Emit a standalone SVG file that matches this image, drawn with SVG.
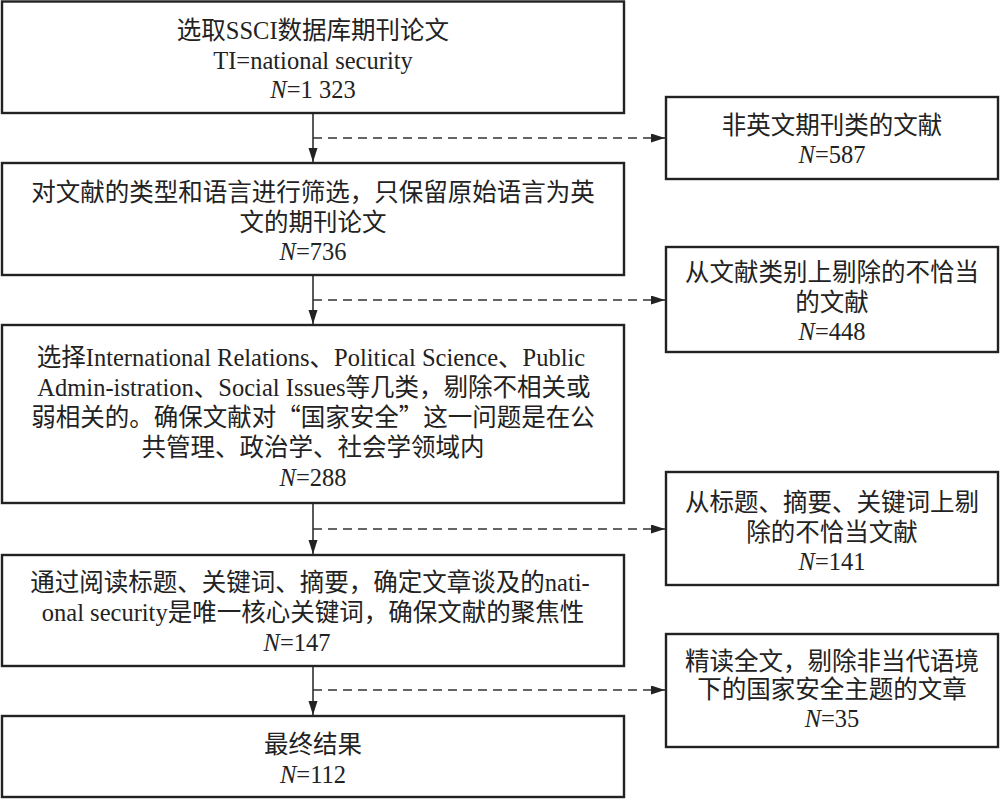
<svg xmlns="http://www.w3.org/2000/svg" width="1000" height="800" viewBox="0 0 1000 800">
<defs>
<style>
.box{fill:#fff;stroke:#222;stroke-width:2.4}
.t{font-family:"Liberation Serif","Noto Sans CJK SC",serif;font-size:24.5px;fill:#222;text-anchor:middle}
.i{font-style:italic}
.q{font-family:"Noto Sans CJK SC",sans-serif}
.ln{stroke:#222;stroke-width:1.5;fill:none}
.dl{stroke:#333;stroke-width:1.5;fill:none;stroke-dasharray:9 6}
</style>
<marker id="ah" markerUnits="userSpaceOnUse" markerWidth="15" markerHeight="10" refX="14" refY="4.5" orient="auto">
<path d="M0,0 L14,4.5 L0,9 z" fill="#222"/>
</marker>
</defs>
<rect width="1000" height="800" fill="#fff"/>
<g id="connectors">
<line class="ln" x1="313" y1="113" x2="313" y2="162" marker-end="url(#ah)"/>
<line class="ln" x1="313" y1="275" x2="313" y2="324" marker-end="url(#ah)"/>
<line class="ln" x1="313" y1="503" x2="313" y2="554" marker-end="url(#ah)"/>
<line class="ln" x1="313" y1="666" x2="313" y2="715" marker-end="url(#ah)"/>
<line class="dl" x1="313" y1="138" x2="665" y2="138" marker-end="url(#ah)"/>
<line class="dl" x1="313" y1="300" x2="665" y2="300" marker-end="url(#ah)"/>
<line class="dl" x1="313" y1="529" x2="665" y2="529" marker-end="url(#ah)"/>
<line class="dl" x1="313" y1="690" x2="665" y2="690" marker-end="url(#ah)"/>
</g>
<g id="n1">
<rect class="box" x="2" y="1.5" width="622" height="111.5"/>
<text class="t" x="313" y="39">选取SSCI数据库期刊论文</text>
<text class="t" x="313" y="69">TI=national security</text>
<text class="t" x="313" y="98"><tspan class="i">N</tspan>=1 323</text>
</g>
<g id="n2">
<rect class="box" x="2" y="163" width="622" height="112"/>
<text class="t" x="313" y="201">对文献的类型和语言进行筛选，只保留原始语言为英</text>
<text class="t" x="313" y="231">文的期刊论文</text>
<text class="t" x="313" y="260"><tspan class="i">N</tspan>=736</text>
</g>
<g id="n3">
<rect class="box" x="2" y="325" width="622" height="178"/>
<text class="t" x="311" y="366">选择International Relations、Political Science、Public</text>
<text class="t" x="314" y="396">Admin-istration、Social Issues等几类，剔除不相关或</text>
<text class="t" x="313" y="426">弱相关的。确保文献对<tspan class="q">“</tspan>国家安全<tspan class="q">”</tspan>这一问题是在公</text>
<text class="t" x="313" y="456">共管理、政治学、社会学领域内</text>
<text class="t" x="313" y="486"><tspan class="i">N</tspan>=288</text>
</g>
<g id="n4">
<rect class="box" x="2" y="555" width="622" height="111"/>
<text class="t" x="310" y="591">通过阅读标题、关键词、摘要，确定文章谈及的nati-</text>
<text class="t" x="313" y="621">onal security是唯一核心关键词，确保文献的聚焦性</text>
<text class="t" x="297" y="651"><tspan class="i">N</tspan>=147</text>
</g>
<g id="n5">
<rect class="box" x="2" y="716" width="622" height="81"/>
<text class="t" x="313" y="753">最终结果</text>
<text class="t" x="313" y="783"><tspan class="i">N</tspan>=112</text>
</g>
<g id="r1">
<rect class="box" x="666" y="97" width="332" height="82"/>
<text class="t" x="832" y="134">非英文期刊类的文献</text>
<text class="t" x="832" y="163"><tspan class="i">N</tspan>=587</text>
</g>
<g id="r2">
<rect class="box" x="666" y="247" width="332" height="105"/>
<text class="t" x="832" y="281">从文献类别上剔除的不恰当</text>
<text class="t" x="832" y="311">的文献</text>
<text class="t" x="832" y="340"><tspan class="i">N</tspan>=448</text>
</g>
<g id="r3">
<rect class="box" x="666" y="472" width="332" height="113"/>
<text class="t" x="832" y="511">从标题、摘要、关键词上剔</text>
<text class="t" x="832" y="541">除的不恰当文献</text>
<text class="t" x="832" y="570"><tspan class="i">N</tspan>=141</text>
</g>
<g id="r4">
<rect class="box" x="666" y="634" width="332" height="113"/>
<text class="t" x="832" y="670">精读全文，剔除非当代语境</text>
<text class="t" x="832" y="698">下的国家安全主题的文章</text>
<text class="t" x="832" y="727"><tspan class="i">N</tspan>=35</text>
</g>
</svg>
